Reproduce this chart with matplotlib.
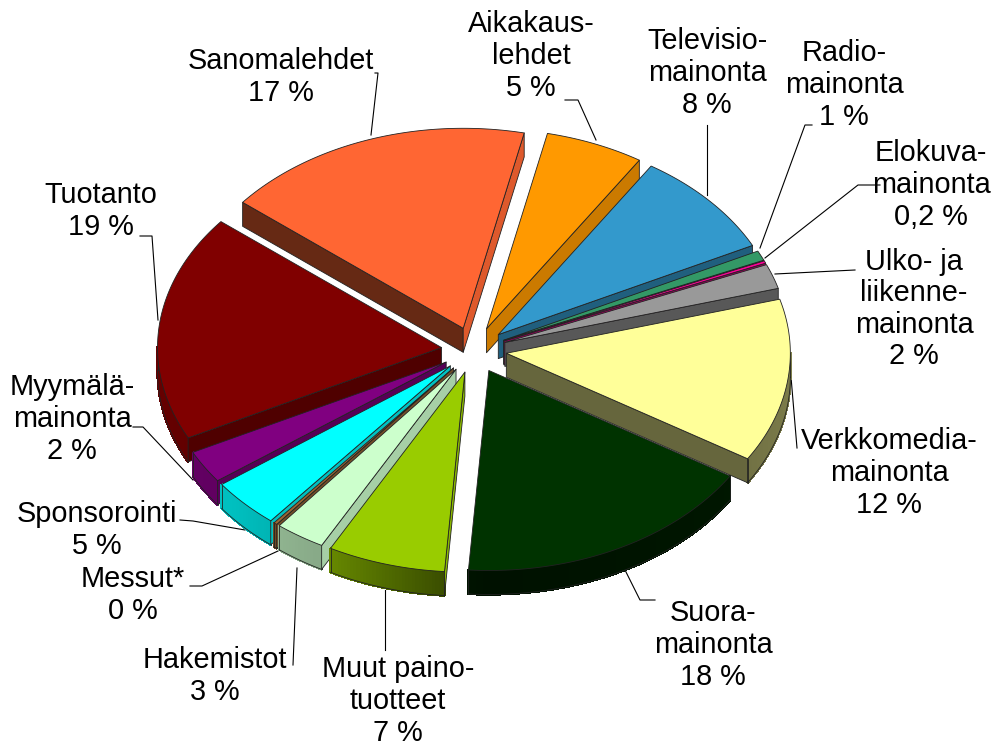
import numpy as np
import matplotlib
matplotlib.use("Agg")
import matplotlib.pyplot as plt
from matplotlib.colors import to_rgb
from matplotlib.patches import Polygon

# Data (shares in percent, clockwise from the start angle)
names = ["Aikakaus-\nlehdet\n5 %", "Televisio-\nmainonta\n8 %", "Radio-\nmainonta\n1 %",
         "Elokuva-\nmainonta\n0,2 %", "Ulko- ja\nliikenne-\nmainonta\n2 %",
         "Verkkomedia-\nmainonta\n12 %", "Suora-\nmainonta\n18 %",
         "Muut paino-\ntuotteet\n7 %", "Hakemistot\n3 %", "Messut*\n0 %",
         "Sponsorointi\n5 %", "Myymälä-\nmainonta\n2 %", "Tuotanto\n19 %",
         "Sanomalehdet\n17 %"]
shares = [5.6, 8.6, 0.8, 0.2, 2.0, 13.2, 17.3, 6.7, 2.85, 0.2, 4.0, 2.65, 18.3, 17.6]
colors = ["#FF9900", "#3399CC", "#339966", "#FF0099", "#999999", "#FFFF99", "#003300",
          "#99CC00", "#CCFFCC", "#996633", "#00FFFF", "#800080", "#800000", "#FF6633"]
draw_order = [13, 12, 11, 10, 9, 8, 7, 0, 1, 2, 3, 4, 6, 5]
label_pos = [(531, 56), (707, 73), (844, 85), (931, 185), (914, 309), (889, 473), (713, 645),
             (398, 701), (215, 676), (133, 595), (97, 530), (72, 419), (101, 211), (281, 77)]
leaders = [[(565, 100), (578, 100), (596, 140)], [(707, 125), (707, 195)],
           [(812, 125), (805, 125), (760, 248)], [(880, 185), (858, 185), (765, 258)],
           [(855, 270), (775, 274)], [(797, 448), (790, 365)],
           [(655, 600), (640, 600), (625, 570)], [(385, 650), (385, 590)],
           [(293, 665), (297, 568)], [(190, 586), (202, 586), (278, 551)],
           [(180, 520), (193, 521), (245, 530)], [(133, 427), (143, 427), (193, 480)],
           [(140, 236), (152, 236), (158, 320)], [(375, 73), (378, 73), (371, 135)]]

start_angle = 12.4
explode = 0.115
cx, cy, rx, ry, depth = 474, 350, 284, 200, 24

plt.rcParams["font.family"] = ["Liberation Sans", "DejaVu Sans"]
fig = plt.figure(figsize=(9.92, 7.45), dpi=100)
ax = fig.add_axes([0, 0, 1, 1])
ax.set_xlim(0, 992)
ax.set_ylim(745, 0)
ax.axis("off")


def pt(t, r=1.0):
    a = np.radians(t)
    return np.array([r * rx * np.sin(a), -r * ry * np.cos(a)])


def arc_shade(n):
    return np.interp(n, [90, 120, 180, 208, 230, 270], [0.5, 0.45, 0.33, 0.66, 0.75, 0.8])


def wall_shade(n):
    return np.interp(n, [94, 122, 153, 210, 219], [0.9, 0.8, 0.62, 0.4, 0.4])


def dark(c, f):
    return tuple(v * f for v in to_rgb(c))


for line in leaders:
    xs, ys = zip(*line)
    ax.plot(xs, ys, color="black", lw=0.8, zorder=1)

edges = start_angle + np.cumsum([0] + shares) * 3.6
mids = (edges[:-1] + edges[1:]) / 2
z = 2
EDGE = dict(edgecolor="#222222", linewidth=0.6, joinstyle="round")
for i in draw_order:
    t0, t1 = edges[i], edges[i + 1]
    tip = np.array([cx, cy]) + pt(mids[i], explode)
    ts = np.linspace(t0, t1, max(3, int((t1 - t0) * 1.5)))
    rim = np.array([tip + pt(t) for t in ts])
    down = np.array([0, depth])
    # rim wall with shading by direction
    vis = [k for k in range(len(ts) - 1) if 90 < (ts[k] + ts[k + 1]) / 2 % 360 < 270]
    for k in vis:
        n = ((ts[k] + ts[k + 1]) / 2) % 360
        c = dark(colors[i], arc_shade(n))
        ax.add_patch(Polygon([rim[k], rim[k + 1], rim[k + 1] + down, rim[k] + down], closed=True,
                             facecolor=c, edgecolor=c, linewidth=1.0, antialiased=False, zorder=z))
    z += 1
    if vis:
        a, b = vis[0], vis[-1] + 1
        low = rim[a:b + 1] + down
        ax.plot(low[:, 0], low[:, 1], color="#222222", lw=0.6, zorder=z)
        for e in (a, b):
            ax.plot([rim[e][0], rim[e][0]], [rim[e][1], rim[e][1] + depth], color="#222222",
                    lw=0.6, zorder=z)
        z += 1
    # radial walls
    for t, n in ((t0, t0 - 90), (t1, t1 + 90)):
        n %= 360
        if 90 < n < 270:
            p = tip + pt(t)
            ax.add_patch(Polygon([tip, p, p + down, tip + down], closed=True,
                                 facecolor=dark(colors[i], wall_shade(n)), zorder=z, **EDGE))
            z += 1
    ax.add_patch(Polygon(np.vstack([tip, rim]), closed=True, facecolor=colors[i], zorder=z, **EDGE))
    z += 1

for name, (x, y) in zip(names, label_pos):
    ax.text(x, y, name, ha="center", va="center", fontsize=20.8, color="black",
            linespacing=1.16, zorder=z)

fig.savefig("out.png", dpi=100, facecolor="white")
